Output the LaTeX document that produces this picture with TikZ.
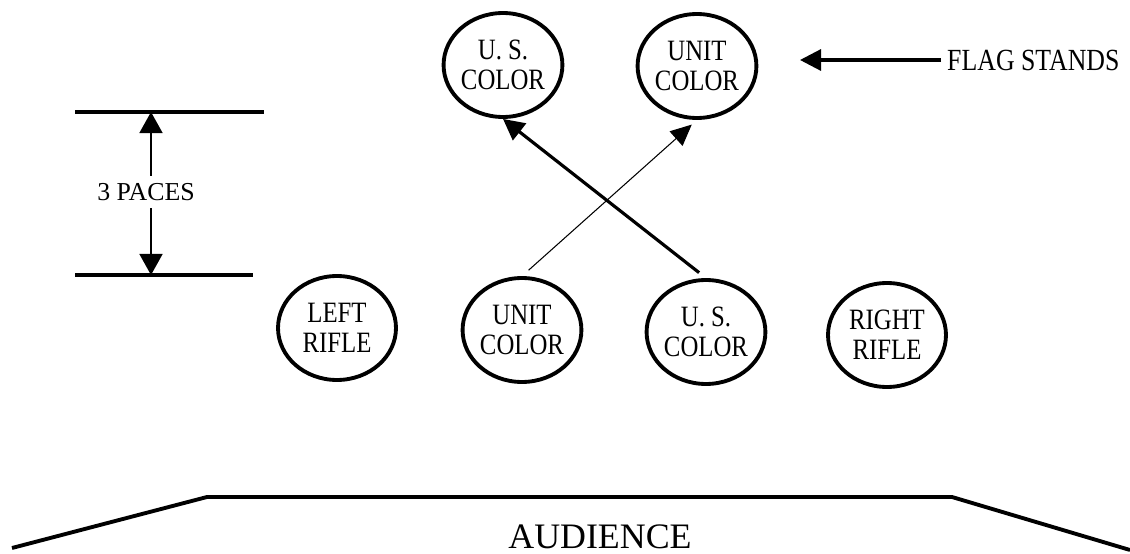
\documentclass[tikz,border=0pt]{standalone}
\usepackage{fontspec}
\setmainfont{Liberation Serif}
\newfontfamily\narrowserif{Liberation Serif}[FakeStretch=0.84]
\usetikzlibrary{arrows.meta,positioning,shapes.geometric}
\tikzset{
  bearer/.style={draw, ellipse, line width=2.2pt, minimum width=2.36cm, minimum height=2.08cm, inner sep=0pt, align=center, font=\narrowserif\fontsize{16.8}{17}\selectfont},
  flow/.style={-{Triangle[length=12pt,width=12pt]}, line width=1.8pt},
  thinflow/.style={-{Triangle[length=12pt,width=11pt]}, line width=0.6pt},
  pacearrow/.style={{Triangle[length=12pt,width=13pt]}-{Triangle[length=12pt,width=13pt]}, line width=1.4pt},
  bar/.style={line width=2.2pt},
  info/.style={font=\narrowserif\fontsize{17.5}{18}\selectfont}
}
\begin{document}
\begin{tikzpicture}[x=0.02cm, y=-0.02cm]
  \useasboundingbox (0,0) rectangle (1130,554);
  \node[bearer] (ustop) at (503,65) {U. S.\\COLOR};
  \node[bearer] (unittop) at (697,66) {UNIT\\COLOR};
  \node[bearer] (leftrifle) at (337,328) {LEFT\\RIFLE};
  \node[bearer] (unitbot) at (522,330) {UNIT\\COLOR};
  \node[bearer] (usbot) at (706,332) {U. S.\\COLOR};
  \node[bearer] (rightrifle) at (887,335) {RIGHT\\RIFLE};
  \draw[flow, shorten <=5pt] (usbot.north) -- (ustop.south);
  \draw[thinflow, shorten <=5pt, shorten >=4pt] (unitbot.north) -- (unittop.south);
  \node[info, anchor=west] (flag) at (941,60) {FLAG STANDS};
  \coordinate (flagtip) at (800,60);
  \draw[flow] (flag.west) -- (flagtip);
  \coordinate (topl) at (75,112);
  \coordinate (topr) at (264,112);
  \coordinate (botl) at (75,275);
  \coordinate (botr) at (253,275);
  \coordinate (topm) at (151,112);
  \coordinate (botm) at (151,275);
  \draw[bar] (topl) -- (topr);
  \draw[bar] (botl) -- (botr);
  \draw[pacearrow] (topm) -- (botm);
  \node[fill=white, font=\fontsize{14.7}{16}\selectfont, inner xsep=1pt, inner ysep=4pt] (paces) at (146,192) {3 PACES};
  \draw[bar] (12,548) -- (207,497) -- (952,497) -- (1130,550);
  \node[font=\fontsize{20.4}{24}\selectfont] (audience) at (600,537) {AUDIENCE};
\end{tikzpicture}
\end{document}
